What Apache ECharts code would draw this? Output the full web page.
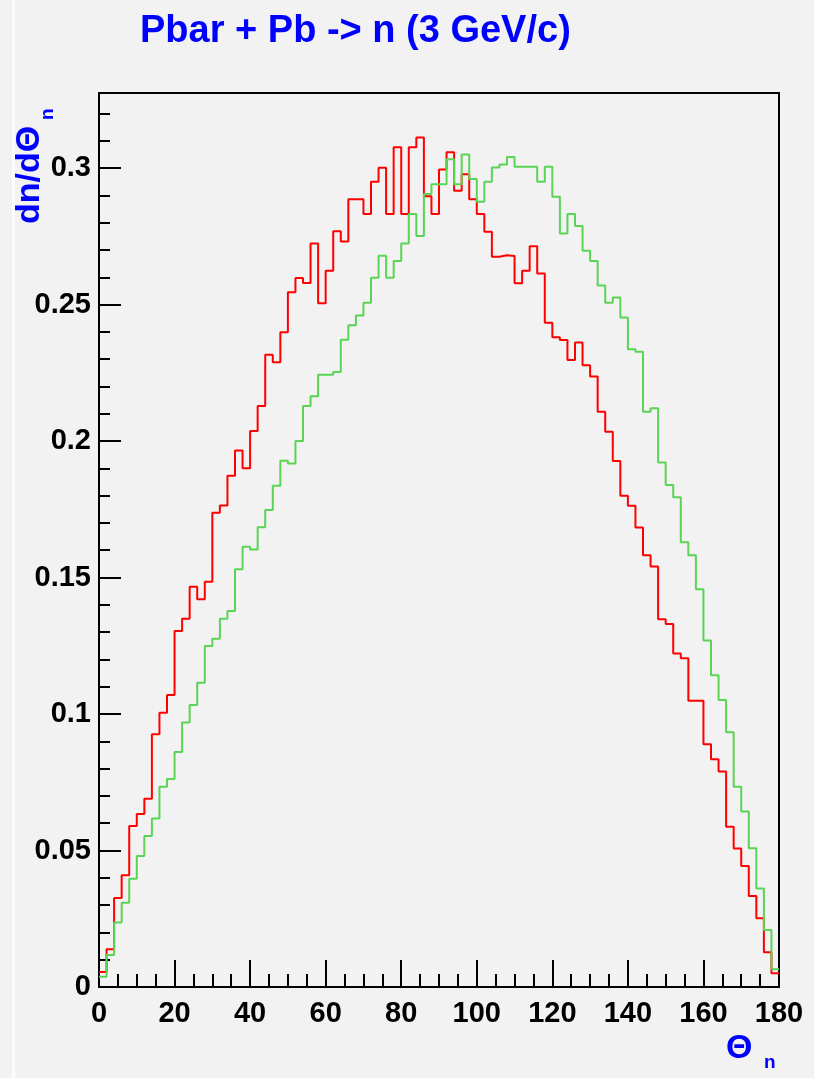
<!DOCTYPE html>
<html>
<head>
<meta charset="utf-8">
<script src="https://cdn.jsdelivr.net/npm/echarts@6/dist/echarts.min.js"></script>
<style>
  html, body { margin: 0; padding: 0; background: #f2f2f2; }
  #chart { width: 814px; height: 1078px; }
</style>
</head>
<body>
<div id="chart"></div>
<script>
// Histogram: 90 bins of 2 degrees from 0 to 180
const binWidth = 2;
const xTickLabels = [0, 20, 40, 60, 80, 100, 120, 140, 160, 180];
const yTickValues = [0, 0.05, 0.1, 0.15, 0.2, 0.25, 0.3];
const yMinorTickValues = [0.01,0.02,0.03,0.04,0.06,0.07,0.08,0.09,0.11,0.12,0.13,0.14,0.16,0.17,0.18,0.19,0.21,0.22,0.23,0.24,0.26,0.27,0.28,0.29,0.31,0.32];

const redValues = [
  0.0055, 0.0138, 0.0326, 0.0409, 0.0590, 0.0634, 0.0690, 0.0926, 0.1005, 0.1070,
  0.1304, 0.1349, 0.1466, 0.1420, 0.1485, 0.1737, 0.1764, 0.1873, 0.1965, 0.1900,
  0.2037, 0.2128, 0.2316, 0.2289, 0.2399, 0.2545, 0.2597, 0.2579, 0.2724, 0.2505,
  0.2624, 0.2769, 0.2731, 0.2886, 0.2886, 0.2832, 0.2950, 0.3001, 0.2832, 0.3076,
  0.2832, 0.3076, 0.3112, 0.2897, 0.2832, 0.2995, 0.3058, 0.2917, 0.2977, 0.2886,
  0.2832, 0.2767, 0.2675, 0.2681, 0.2678, 0.2578, 0.2624, 0.2714, 0.2614, 0.2433,
  0.2380, 0.2370, 0.2297, 0.2361, 0.2278, 0.2236, 0.2107, 0.2034, 0.1927, 0.1800,
  0.1763, 0.1683, 0.1582, 0.1540, 0.1347, 0.1330, 0.1222, 0.1204, 0.1049, 0.1049,
  0.0889, 0.0834, 0.0789, 0.0587, 0.0507, 0.0443, 0.0333, 0.0252, 0.0127, 0.0050
];

const greenValues = [
  0.0038, 0.0117, 0.0236, 0.0309, 0.0397, 0.0480, 0.0553, 0.0617, 0.0734, 0.0762,
  0.0861, 0.0969, 0.1033, 0.1115, 0.1249, 0.1276, 0.1349, 0.1377, 0.1530, 0.1613,
  0.1603, 0.1684, 0.1747, 0.1836, 0.1928, 0.1918, 0.2000, 0.2128, 0.2164, 0.2243,
  0.2243, 0.2253, 0.2371, 0.2424, 0.2460, 0.2507, 0.2598, 0.2679, 0.2598, 0.2660,
  0.2724, 0.2832, 0.2751, 0.2905, 0.2941, 0.2941, 0.3032, 0.2941, 0.3050, 0.2960,
  0.2877, 0.2950, 0.3002, 0.3013, 0.3041, 0.3005, 0.3005, 0.3005, 0.2950, 0.3005,
  0.2895, 0.2760, 0.2832, 0.2788, 0.2697, 0.2660, 0.2570, 0.2507, 0.2526, 0.2453,
  0.2336, 0.2327, 0.2107, 0.2120, 0.1921, 0.1839, 0.1794, 0.1629, 0.1582, 0.1457,
  0.1269, 0.1142, 0.1051, 0.0933, 0.0734, 0.0643, 0.0508, 0.0361, 0.0209, 0.0065
];

function toSteps(vals) {
  const pts = vals.map((v, i) => [i * binWidth, v]);
  pts.push([vals.length * binWidth, vals[vals.length - 1]]);
  return pts;
}

const FONT = "'Liberation Sans', Arial, Helvetica, sans-serif";
const chart = echarts.init(document.getElementById('chart'), null, { renderer: 'canvas' });

chart.setOption({
  animation: false,
  backgroundColor: '#f2f2f2',
  title: {
    text: 'Pbar + Pb -> n (3 GeV/c)',
    left: 135,
    top: 8,
    textStyle: { color: '#0000ff', fontSize: 38, fontWeight: 'bold', fontFamily: FONT }
  },
  grid: {
    left: 99, right: 35, top: 93, bottom: 91,
    show: true, borderColor: '#000', borderWidth: 2, backgroundColor: 'transparent'
  },
  xAxis: {
    type: 'value', min: 0, max: 180, interval: 20,
    axisLine: { show: true, lineStyle: { color: '#000', width: 2 } },
    axisTick: { show: true, inside: true, length: 27, lineStyle: { color: '#000', width: 2 },
                customValues: xTickLabels },
    minorTick: { show: true, splitNumber: 4, length: 13, lineStyle: { color: '#000', width: 2 } },
    axisLabel: { color: '#000', fontSize: 29, fontWeight: 'bold', fontFamily: FONT, margin: 12,
                 customValues: xTickLabels },
    splitLine: { show: false }
  },
  yAxis: [{
    type: 'value', min: 0, max: 0.3275,
    axisLine: { show: true, lineStyle: { color: '#000', width: 2 } },
    axisTick: { show: true, inside: true, length: 22, lineStyle: { color: '#000', width: 2 },
                customValues: yTickValues },
    axisLabel: { color: '#000', fontSize: 29, fontWeight: 'bold', fontFamily: FONT, margin: 8,
                 customValues: yTickValues, formatter: v => String(+v.toFixed(3)) },
    splitLine: { show: false }
  }, {
    type: 'value', min: 0, max: 0.3275, position: 'left',
    axisLine: { show: false },
    axisTick: { show: true, inside: true, length: 11, lineStyle: { color: '#000', width: 2 },
                customValues: yMinorTickValues },
    axisLabel: { show: false },
    splitLine: { show: false }
  }],
  series: [{
    type: 'line', step: 'end', showSymbol: false, symbol: 'none',
    data: toSteps(redValues),
    lineStyle: { color: '#ff0000', width: 2 },
    itemStyle: { color: '#ff0000' }, z: 3
  }, {
    type: 'line', step: 'end', showSymbol: false, symbol: 'none',
    data: toSteps(greenValues),
    lineStyle: { color: '#59d454', width: 2 },
    itemStyle: { color: '#59d454' }, z: 4
  }],
  graphic: [
    { type: 'rect', left: 12, top: 0, shape: { width: 3, height: 1078 }, style: { fill: '#fcfcfc' }, silent: true },
    { type: 'text', x: 47, y: 224, rotation: Math.PI / 2,
      style: { text: 'dn/dΘ', fill: '#0000ff', font: "bold 34px 'Liberation Sans', Arial, sans-serif",
               textAlign: 'left', textVerticalAlign: 'bottom' } },
    { type: 'text', x: 57, y: 120, rotation: Math.PI / 2,
      style: { text: 'n', fill: '#0000ff', font: "bold 19px 'Liberation Sans', Arial, sans-serif",
               textAlign: 'left', textVerticalAlign: 'bottom' } },
    { type: 'text', x: 726, y: 1066,
      style: { text: 'Θ', fill: '#0000ff', font: "bold 34px 'Liberation Sans', Arial, sans-serif",
               textAlign: 'left', textVerticalAlign: 'bottom' } },
    { type: 'text', x: 764, y: 1072,
      style: { text: 'n', fill: '#0000ff', font: "bold 19px 'Liberation Sans', Arial, sans-serif",
               textAlign: 'left', textVerticalAlign: 'bottom' } }
  ]
});
</script>
</body>
</html>
